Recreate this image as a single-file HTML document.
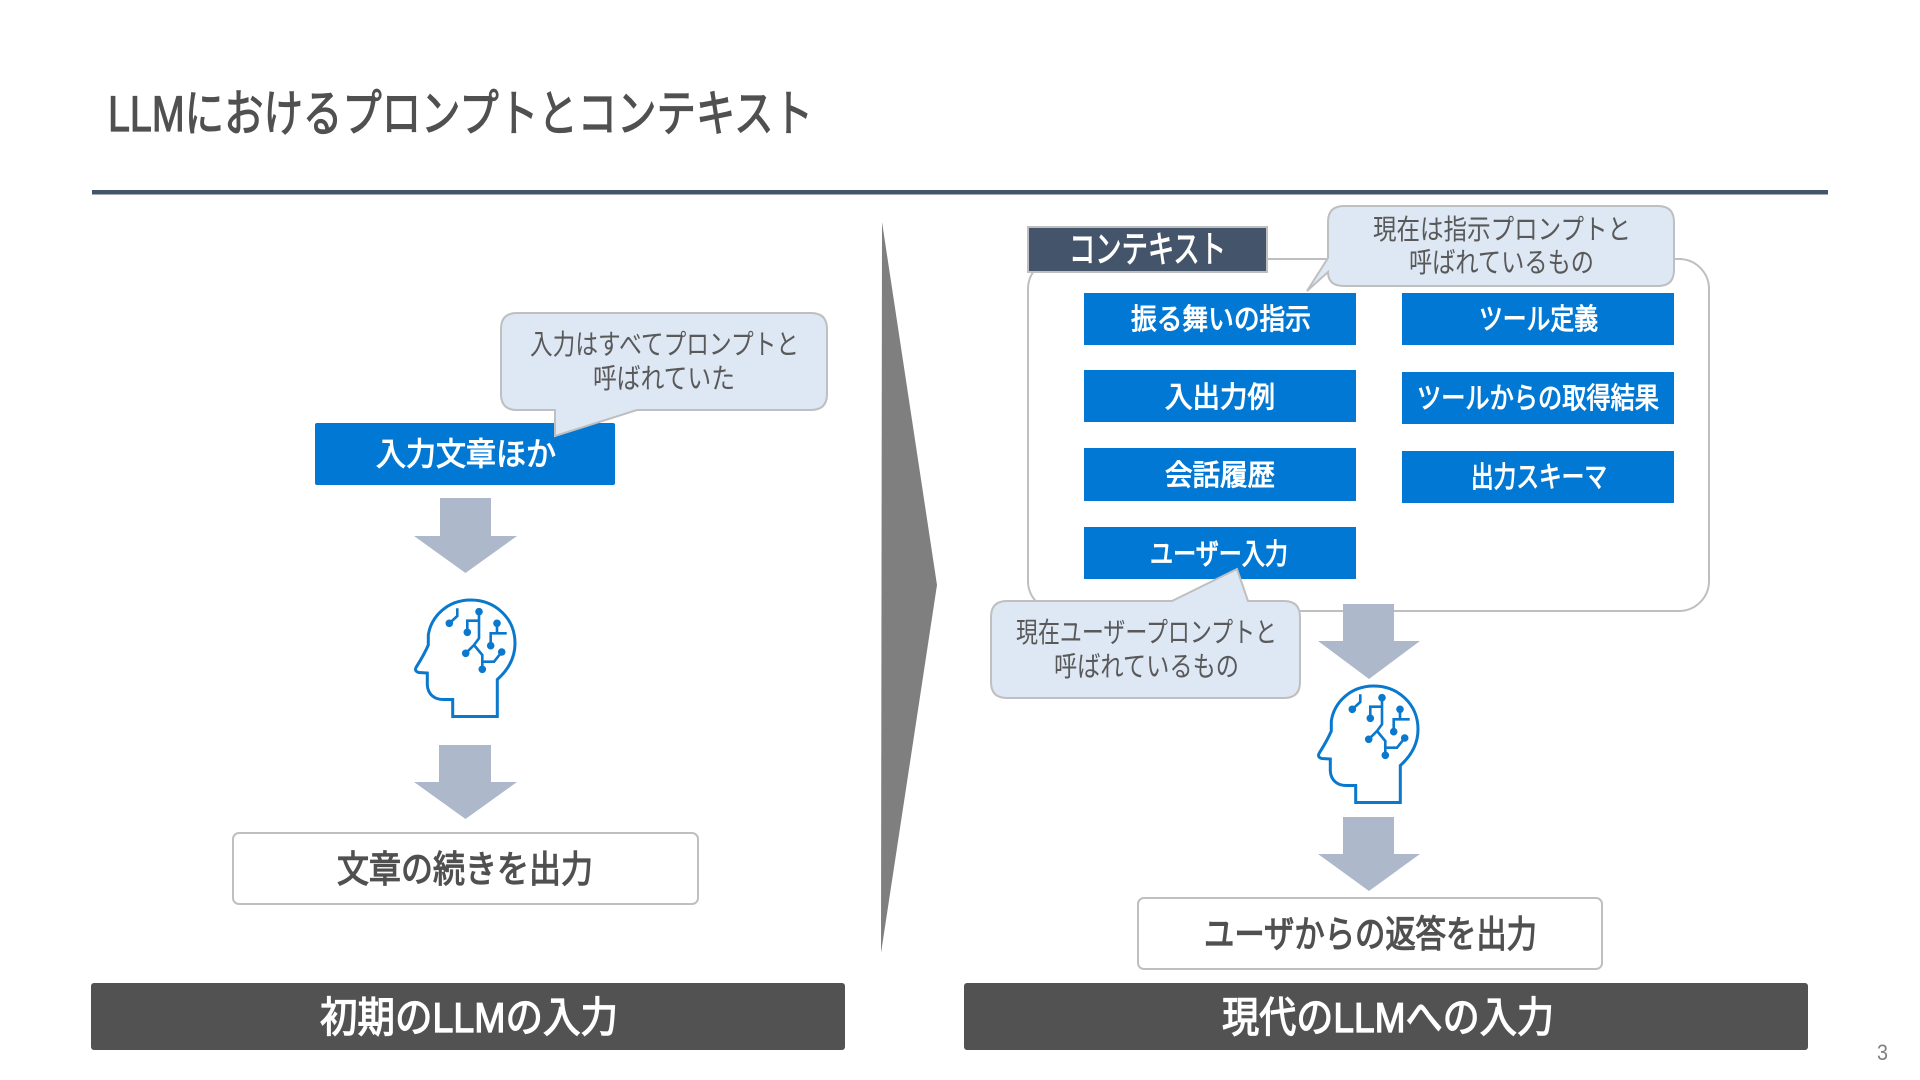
<!DOCTYPE html>
<html lang="ja"><head><meta charset="utf-8"><title>LLMにおけるプロンプトとコンテキスト</title>
<style>
html,body{margin:0;padding:0;background:#fff;width:1920px;height:1080px;overflow:hidden}
svg{display:block}
text{font-family:"Liberation Sans","Noto Sans CJK JP",sans-serif}
.w{fill:#fff;font-weight:400;stroke:#fff;stroke-width:1px}
.c{fill:#595959;font-size:28px;font-weight:400}
.l{font-size:29px}
.d{fill:#505050;font-weight:400;stroke:#505050;stroke-width:1.2px;font-size:37px}
.b{fill:#fff;font-weight:400;stroke:#fff;stroke-width:1.3px;font-size:42px}
</style></head><body>
<svg width="1920" height="1080" viewBox="0 0 1920 1080" xmlns="http://www.w3.org/2000/svg">
<defs>
<g id="head" fill="none" stroke="#0A78CC" stroke-width="3" stroke-linejoin="miter">
<path d="M97.300 716.500V679.500C108 670 115 658 115 643.300C115 618 95 600 70.700 600C47 600 31 617 28.300 635V645C24 655 20 661 16.300 667C14.500 670 16 672 19 672.500L27.300 673V685C28 695 35 699.500 43.300 699.500H52.700V716.500H97.300Z"/>
<path d="M49.300 623.300L57.300 616V608.300M79 611.700V638.300L74 645L65.700 653.300M79 620.700H67.300V632.300M97 623.300V633.300M106.700 633.300H90.700V645.700M74 645L82.300 655V669.300M82.300 661.700H94L101.700 652" stroke-width="2.600"/>
<g fill="#0A78CC" stroke="none">
<circle cx="49.300" cy="623.300" r="3.800"/><circle cx="79" cy="611.700" r="3.800"/><circle cx="67.300" cy="632.300" r="3.800"/><circle cx="97" cy="623.300" r="3.800"/><circle cx="90.700" cy="645.700" r="3.800"/><circle cx="65.700" cy="653.300" r="3.800"/><circle cx="82.300" cy="669.300" r="3.800"/><circle cx="101.700" cy="652" r="3.800"/>
</g>
</g>
</defs>
<rect width="1920" height="1080" fill="#fff"/>
<text x="108" y="131" font-size="50" fill="#505050" stroke="#505050" stroke-width="1.2" textLength="705" lengthAdjust="spacingAndGlyphs">LLMにおけるプロンプトとコンテキスト</text>
<rect x="92" y="190" width="1736" height="4.500" fill="#44546A"/>

<!-- left column -->
<rect x="315" y="423" width="300" height="62" rx="2" fill="#0078D4"/>
<text x="376" y="465" class="w" font-size="32" textLength="180" lengthAdjust="spacingAndGlyphs">入力文章ほか</text>
<path d="M517 313H811Q827 313 827 329V394Q827 410 811 410H637L555 436V410H517Q501 410 501 394V329Q501 313 517 313Z" fill="#DEE8F5" stroke="#BFBFBF" stroke-width="2"/>
<text x="530" y="354" class="c" textLength="269" lengthAdjust="spacingAndGlyphs">入力はすべてプロンプトと</text>
<text x="593" y="388" class="c" textLength="142" lengthAdjust="spacingAndGlyphs">呼ばれていた</text>
<polygon points="440,498 491,498 491,536 517,536 465.500,573 414,536 440,536" fill="#ADB9CA"/>
<use href="#head" x="400" y="0"/>
<polygon points="439,745 491,745 491,782 517,782 465.500,819 414,782 439,782" fill="#ADB9CA"/>
<rect x="233" y="833" width="465" height="71" rx="6" fill="#fff" stroke="#BFBFBF" stroke-width="2"/>
<text x="337" y="882" class="d" textLength="256" lengthAdjust="spacingAndGlyphs">文章の続きを出力</text>
<rect x="91" y="983" width="754" height="67" rx="3" fill="#525252"/>
<text x="320" y="1032" class="b" textLength="298" lengthAdjust="spacingAndGlyphs">初期のLLMの入力</text>

<!-- divider -->
<polygon points="882,222 937,585 881,953" fill="#7F7F7F"/>

<!-- right column -->
<rect x="1028" y="259" width="681" height="352" rx="30" fill="#fff" stroke="#BFBFBF" stroke-width="2"/>
<rect x="1028" y="227" width="239" height="45" fill="#44546A" stroke="#BFBFBF" stroke-width="2"/>
<text x="1069" y="262" class="w" font-size="37" textLength="157" lengthAdjust="spacingAndGlyphs">コンテキスト</text>
<path d="M1344 206H1658Q1674 206 1674 222V270Q1674 286 1658 286H1344Q1328 286 1328 272L1307 291L1328 258V222Q1328 206 1344 206Z" fill="#DEE8F5" stroke="#BFBFBF" stroke-width="2"/>
<text x="1373" y="239" class="c" textLength="258" lengthAdjust="spacingAndGlyphs">現在は指示プロンプトと</text>
<text x="1409" y="272" class="c" textLength="185" lengthAdjust="spacingAndGlyphs">呼ばれているもの</text>

<rect x="1084" y="293" width="272" height="52" fill="#0078D4"/>
<rect x="1084" y="370" width="272" height="52" fill="#0078D4"/>
<rect x="1084" y="448" width="272" height="53" fill="#0078D4"/>
<rect x="1084" y="527" width="272" height="52" fill="#0078D4"/>
<rect x="1402" y="293" width="272" height="52" fill="#0078D4"/>
<rect x="1402" y="372" width="272" height="52" fill="#0078D4"/>
<rect x="1402" y="451" width="272" height="52" fill="#0078D4"/>
<text x="1131" y="329" class="w l" textLength="180" lengthAdjust="spacingAndGlyphs">振る舞いの指示</text>
<text x="1165" y="407" class="w l" textLength="110" lengthAdjust="spacingAndGlyphs">入出力例</text>
<text x="1165" y="485" class="w l" textLength="110" lengthAdjust="spacingAndGlyphs">会話履歴</text>
<text x="1150" y="564" class="w l" textLength="138" lengthAdjust="spacingAndGlyphs">ユーザー入力</text>
<text x="1479" y="329" class="w l" textLength="119" lengthAdjust="spacingAndGlyphs">ツール定義</text>
<text x="1417" y="408" class="w l" textLength="242" lengthAdjust="spacingAndGlyphs">ツールからの取得結果</text>
<text x="1471" y="487" class="w l" textLength="136" lengthAdjust="spacingAndGlyphs">出力スキーマ</text>

<path d="M1007 601H1172L1237 569L1248 601H1284Q1300 601 1300 617V682Q1300 698 1284 698H1007Q991 698 991 682V617Q991 601 1007 601Z" fill="#DEE8F5" stroke="#BFBFBF" stroke-width="2"/>
<text x="1016" y="642" class="c" textLength="261" lengthAdjust="spacingAndGlyphs">現在ユーザープロンプトと</text>
<text x="1054" y="676" class="c" textLength="185" lengthAdjust="spacingAndGlyphs">呼ばれているもの</text>

<polygon points="1343,604 1394,604 1394,641 1420,641 1369,679 1318,641 1343,641" fill="#ADB9CA"/>
<use href="#head" x="1303" y="86"/>
<polygon points="1343,817 1394,817 1394,854 1420,854 1369,891 1318,854 1343,854" fill="#ADB9CA"/>
<rect x="1138" y="898" width="464" height="71" rx="6" fill="#fff" stroke="#BFBFBF" stroke-width="2"/>
<text x="1204" y="947" class="d" textLength="333" lengthAdjust="spacingAndGlyphs">ユーザからの返答を出力</text>
<rect x="964" y="983" width="844" height="67" rx="3" fill="#525252"/>
<text x="1222" y="1032" class="b" textLength="332" lengthAdjust="spacingAndGlyphs">現代のLLMへの入力</text>
<text x="1877" y="1060" font-size="22" fill="#7F7F7F" textLength="11" lengthAdjust="spacingAndGlyphs">3</text>
</svg>
</body></html>
